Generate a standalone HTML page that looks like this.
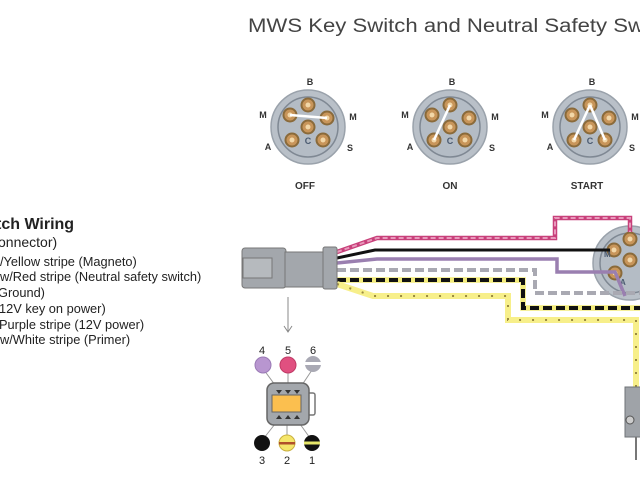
<!DOCTYPE html>
<html><head><meta charset="utf-8"><style>html,body{margin:0;padding:0;background:#fff;}svg{display:block;}</style></head>
<body>
<svg width="640" height="480" viewBox="0 0 640 480" xmlns="http://www.w3.org/2000/svg" font-family="Liberation Sans, sans-serif">
<defs>
<g id="pin"><circle r="7.5" fill="#8a6a3a"/><circle r="5.5" fill="#c8955a"/><circle r="2.5" fill="#f2d7a8"/></g>
<g id="sw">
<circle r="37" fill="#b9c0c8" stroke="#9aa2ab" stroke-width="1.5"/>
<circle r="30" fill="#b4bcc5" stroke="#7f8893" stroke-width="1.5"/>
<use href="#pin" x="0" y="-22"/><use href="#pin" x="-18" y="-12"/><use href="#pin" x="19" y="-9"/>
<use href="#pin" x="0" y="0"/><use href="#pin" x="-16" y="13"/><use href="#pin" x="15" y="13"/>
<text x="0" y="17" font-size="9" font-weight="bold" fill="#4a5a70" text-anchor="middle">C</text>
<text x="2" y="-42" font-size="9" font-weight="bold" fill="#333" text-anchor="middle">B</text>
<text x="-45" y="-9" font-size="9" font-weight="bold" fill="#333" text-anchor="middle">M</text>
<text x="45" y="-7" font-size="9" font-weight="bold" fill="#333" text-anchor="middle">M</text>
<text x="-40" y="23" font-size="9" font-weight="bold" fill="#333" text-anchor="middle">A</text>
<text x="42" y="24" font-size="9" font-weight="bold" fill="#333" text-anchor="middle">S</text>
</g>
</defs>
<text x="248" y="32" font-size="19" fill="#444" textLength="396" lengthAdjust="spacingAndGlyphs">MWS Key Switch and Neutral Safety Sw</text>

<g transform="translate(308,127)"><use href="#sw"/><line x1="-18" y1="-12" x2="19" y2="-9" stroke="#fff" stroke-width="2.5"/></g>
<g transform="translate(450,127)"><use href="#sw"/><line x1="0" y1="-22" x2="-16" y2="13" stroke="#fff" stroke-width="2.5"/></g>
<g transform="translate(590,127)"><use href="#sw"/><line x1="0" y1="-22" x2="-16" y2="13" stroke="#fff" stroke-width="2.5"/><line x1="0" y1="-22" x2="15" y2="13" stroke="#fff" stroke-width="2.5"/></g>
<g font-size="10" font-weight="bold" fill="#333" text-anchor="middle">
<text x="305" y="189">OFF</text><text x="450" y="189">ON</text><text x="587" y="189">START</text>
</g>

<g fill="#222" font-size="12.8">
<text x="-4" y="229" font-size="16" font-weight="bold">tch Wiring</text>
<text x="-2" y="247" font-size="14">onnector)</text>
<text x="0" y="266">/Yellow stripe (Magneto)</text>
<text x="0" y="281">w/Red stripe (Neutral safety switch)</text>
<text x="-2" y="297">Ground)</text>
<text x="-1" y="313">12V key on power)</text>
<text x="-1" y="329">Purple stripe (12V power)</text>
<text x="0" y="344">w/White stripe (Primer)</text>
</g>

<!-- big switch bottom right -->
<g transform="translate(630,263)">
<circle r="37" fill="#b9c0c8" stroke="#9aa2ab" stroke-width="1.5"/>
<circle r="30" fill="#b4bcc5" stroke="#7f8893" stroke-width="1.5"/>
<use href="#pin" x="0" y="-24"/><use href="#pin" x="-16" y="-13"/><use href="#pin" x="0" y="-3"/><use href="#pin" x="-15" y="10"/>
<text x="-26" y="-6" font-size="8" font-weight="bold" fill="#4a5a70">M</text>
<text x="-10" y="22" font-size="8" font-weight="bold" fill="#4a5a70">A</text>
</g>

<!-- wires -->
<g fill="none" stroke-linejoin="miter">
<path d="M337,252 L377,238 L555,238 L555,218 L630,218 L630,232" stroke="#c8407a" stroke-width="4.5"/>
<path d="M337,252 L377,238 L555,238 L555,218 L630,218 L630,232" stroke="#e898bb" stroke-width="2" stroke-dasharray="5,3"/>
<path d="M337,258 L375,250 L610,250" stroke="#111" stroke-width="3"/>
<path d="M337,263 L377,259 L557,259 L557,272 L615,272 L625,296" stroke="#9a7fb0" stroke-width="3.5"/>
<path d="M337,270 L535,270 L535,293 L640,293" stroke="#a9a9b2" stroke-width="4" stroke-dasharray="9,4"/>
<path d="M337,280 L523,280 L523,308 L640,308" stroke="#f3ec7a" stroke-width="5.5"/>
<path d="M337,280 L523,280 L523,308 L640,308" stroke="#111" stroke-width="4" stroke-dasharray="9,4"/>
<path d="M337,284 L373,296 L508,296 L508,320 L636,320 L636,388" stroke="#f7ef8a" stroke-width="6"/>
<path d="M337,284 L373,296 L508,296 L508,320 L636,320 L636,388" stroke="#9a8a40" stroke-width="2" stroke-dasharray="2,11"/>
</g>
<rect x="625" y="387" width="18" height="50" fill="#9fa3a8" stroke="#6f7377"/>
<circle cx="630" cy="420" r="4" fill="#ccc" stroke="#555"/>
<line x1="636" y1="437" x2="636" y2="460" stroke="#777" stroke-width="2"/>

<!-- connector -->
<rect x="242" y="248" width="44" height="40" rx="3" fill="#a3a7ac" stroke="#777"/>
<rect x="243" y="258" width="29" height="20" fill="#b6babe" stroke="#777"/>
<rect x="285" y="252" width="39" height="35" fill="#a3a7ac" stroke="#777"/>
<rect x="323" y="247" width="14" height="42" rx="2" fill="#a3a7ac" stroke="#777"/>
<line x1="288" y1="297" x2="288" y2="331" stroke="#888"/>
<path d="M284,326 L288,332 L292,326" fill="none" stroke="#888"/>

<!-- pin diagram -->
<g font-size="11" fill="#222" text-anchor="middle">
<text x="262" y="354">4</text><text x="288" y="354">5</text><text x="313" y="354">6</text>
<text x="262" y="464">3</text><text x="287" y="464">2</text><text x="312" y="464">1</text>
</g>
<g stroke="#999" stroke-width="1">
<line x1="264" y1="370" x2="275" y2="385"/><line x1="288" y1="373" x2="288" y2="385"/><line x1="312" y1="370" x2="302" y2="385"/>
<line x1="264" y1="438" x2="275" y2="424"/><line x1="287" y1="438" x2="287" y2="424"/><line x1="310" y1="438" x2="300" y2="424"/>
</g>
<circle cx="263" cy="365" r="8" fill="#b896d0" stroke="#9a7ab5"/>
<circle cx="288" cy="365" r="8" fill="#e05080" stroke="#c03a66"/>
<circle cx="313" cy="364" r="8" fill="#a9a9b4"/><rect x="305" y="362" width="16" height="3" fill="#fff"/>
<circle cx="262" cy="443" r="8" fill="#111"/>
<circle cx="287" cy="443" r="8" fill="#f5e66a" stroke="#c9b040"/><rect x="279" y="442" width="16" height="2.5" fill="#b0502a"/>
<circle cx="312" cy="443" r="8" fill="#111"/><rect x="304" y="441.5" width="16" height="3" fill="#e6e66a"/>
<rect x="306" y="393" width="9" height="22" rx="2" fill="#fff" stroke="#777" stroke-width="1.5"/>
<rect x="267" y="383" width="42" height="42" rx="7" fill="#a3a7ac" stroke="#666" stroke-width="1.5"/>
<rect x="272" y="395" width="29" height="17" fill="#fbbf4f" stroke="#666"/>
<g fill="#333"><path d="M276,390 l3,4 l3,-4z"/><path d="M285,390 l3,4 l3,-4z"/><path d="M294,390 l3,4 l3,-4z"/>
<path d="M276,419 l3,-4 l3,4z"/><path d="M285,419 l3,-4 l3,4z"/><path d="M294,419 l3,-4 l3,4z"/></g>
</svg>
</body></html>
